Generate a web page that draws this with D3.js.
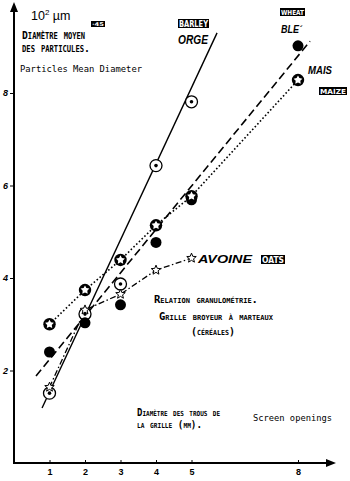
<!DOCTYPE html>
<html>
<head>
<meta charset="utf-8">
<script src="https://cdn.jsdelivr.net/npm/d3@7"></script>
<style>
  body { margin: 0; background: #fff; }
  svg { display: block; }
  .mono { font-family: "DejaVu Sans Mono", monospace; }
  .sc { font-family: "DejaVu Sans Mono", monospace; font-weight: bold; font-variant: small-caps; }
  .crop { font-family: "Liberation Sans", Arial, sans-serif; font-weight: bold; font-style: italic; }
</style>
</head>
<body>
<svg width="350" height="481"></svg>
<script>
// screen opening (mm) and mean particle diameter (10^2 um)
const barleyX = [1, 2, 3, 4, 5];
const barleyY = [1.51, 3.22, 3.87, 6.43, 7.81];
const wheatX = [1, 2, 3, 4, 5, 8];
const wheatY = [2.40, 3.03, 3.42, 4.77, 5.69, 9.02];
const maizeX = [1, 2, 3, 4, 5, 8];
const maizeY = [3.0, 3.74, 4.39, 5.14, 5.77, 8.28];
const oatsX = [1, 2, 3, 4, 5];
const oatsY = [1.64, 3.31, 3.65, 4.17, 4.43];

// fitted lines drawn on the original (start and end in data units)
const barleyFitX = [0.79, 5.72];
const barleyFitY = [1.19, 9.30];
const wheatFitX = [0.62, 8.34];
const wheatFitY = [1.88, 9.12];

const xTicks = [1, 2, 3, 4, 5, 8];
const yTicks = [2, 4, 6, 8];

const svg = d3.select("svg");

const x = d3.scaleLinear().domain([0, 8]).range([14, 298]);
const y = d3.scaleLinear().domain([0, 8]).range([463, 93]);

const zip = (xs, ys) => xs.map((v, i) => [v, ys[i]]);
const line = d3.line().x(d => x(d[0])).y(d => y(d[1]));

// axes with arrows
svg.append("line").attr("x1", 14).attr("y1", 463).attr("x2", 14).attr("y2", 8)
  .attr("stroke", "#000").attr("stroke-width", 2);
svg.append("path").attr("d", "M14,2 L10,12 L18,12 Z").attr("fill", "#000");
svg.append("line").attr("x1", 13).attr("y1", 463).attr("x2", 328).attr("y2", 463)
  .attr("stroke", "#000").attr("stroke-width", 2);
svg.append("path").attr("d", "M336,463 L326,459 L326,467 Z").attr("fill", "#000");

const yAxis = svg.append("g")
  .attr("transform", "translate(14,0)")
  .call(d3.axisLeft(y).tickValues(yTicks).tickSize(4).tickPadding(2));
yAxis.select(".domain").remove();
yAxis.selectAll("text").attr("font-family", "Liberation Sans, Arial, sans-serif")
  .attr("font-weight", "bold").attr("font-style", "italic").attr("font-size", 9);

const xAxis = svg.append("g")
  .attr("transform", "translate(0,463)")
  .call(d3.axisBottom(x).tickValues(xTicks).tickSize(-3).tickPadding(6));
xAxis.select(".domain").remove();
xAxis.selectAll("text").attr("font-family", "Liberation Sans, Arial, sans-serif")
  .attr("font-weight", "bold").attr("font-size", 9);

// lines
const lines = svg.append("g").attr("fill", "none").attr("stroke", "#000");
lines.append("path").attr("d", line(zip(barleyFitX, barleyFitY)))
  .attr("stroke-width", 1.4);
lines.append("path").attr("d", line(zip(wheatFitX, wheatFitY)))
  .attr("stroke-width", 1.6).attr("stroke-dasharray", "8,4");
lines.append("path").attr("d", line(zip(maizeX, maizeY)))
  .attr("stroke-width", 1.6).attr("stroke-dasharray", "1.6,2.2");
lines.append("path").attr("d", line(zip(oatsX, oatsY)))
  .attr("stroke-width", 1.3).attr("stroke-dasharray", "6,2.5,1.5,2.5");

// markers
const star = (n, ro, ri) => {
  const pts = [];
  for (let i = 0; i < n * 2; i++) {
    const r = i % 2 ? ri : ro;
    const a = Math.PI * i / n - Math.PI / 2;
    pts.push([r * Math.cos(a), r * Math.sin(a)]);
  }
  return "M" + pts.join("L") + "Z";
};

const m = svg.append("g");
zip(barleyX, barleyY).forEach(d => {
  const g = m.append("g").attr("transform", `translate(${x(d[0])},${y(d[1])})`);
  g.append("circle").attr("r", 6).attr("fill", "#fff").attr("stroke", "#000").attr("stroke-width", 1.3);
  g.append("circle").attr("r", 1.8).attr("fill", "#000");
});
zip(wheatX, wheatY).forEach(d => {
  m.append("circle").attr("cx", x(d[0])).attr("cy", y(d[1])).attr("r", 5.5).attr("fill", "#000");
});
zip(maizeX, maizeY).forEach(d => {
  const g = m.append("g").attr("transform", `translate(${x(d[0])},${y(d[1])})`);
  g.append("circle").attr("r", 6.2).attr("fill", "#000");
  g.append("path").attr("d", star(5, 4.6, 2.4)).attr("fill", "#fff");
});
zip(oatsX, oatsY).forEach(d => {
  m.append("path").attr("transform", `translate(${x(d[0])},${y(d[1])})`)
    .attr("d", star(5, 5, 2.2)).attr("fill", "#fff").attr("stroke", "#000").attr("stroke-width", 1);
});

// text helpers
const txt = (s, tx, ty, cls, size, len) => {
  const t = svg.append("text").attr("x", tx).attr("y", ty).attr("class", cls)
    .attr("font-size", size).text(s);
  if (len) t.attr("textLength", len).attr("lengthAdjust", "spacingAndGlyphs");
  return t;
};
const tag = (s, bx, by, w, h) => {
  svg.append("rect").attr("x", bx).attr("y", by).attr("width", w).attr("height", h).attr("fill", "#000");
  svg.append("text").attr("x", bx + 1).attr("y", by + h - 1.5)
    .attr("font-family", "DejaVu Sans, sans-serif").attr("font-weight", "bold")
    .attr("font-size", h - 1).attr("fill", "#fff")
    .attr("textLength", w - 2).attr("lengthAdjust", "spacingAndGlyphs").text(s);
};

// title block
const unit = svg.append("text").attr("x", 31).attr("y", 20)
  .attr("font-family", "Liberation Sans, Arial, sans-serif").attr("font-size", 12.5);
unit.append("tspan").text("10");
unit.append("tspan").attr("dy", -5).attr("font-size", 8).text("2");
unit.append("tspan").attr("dy", 5).text(" µm");
tag("·45", 91, 21, 14, 6);

txt("Diamètre moyen", 22, 39, "sc", 11, 63);
txt("des particules.", 22, 52, "sc", 11, 68);
txt("Particles Mean Diameter", 20, 72, "mono", 9, 122);

// crop labels
tag("BARLEY", 178, 19, 31, 9);
txt("ORGE", 178, 44, "crop", 12, 30);
tag("WHEAT", 280, 8, 25, 8);
txt("BLE´", 281, 33, "crop", 11.5, 21);
txt("MAIS", 308, 74, "crop", 11.5, 24);
tag("MAIZE", 319, 87, 28, 8);
txt("AVOINE", 198, 263, "crop", 11.5, 54);
tag("OATS", 261, 255, 24, 9);

// notes
txt("Relation granulométrie.", 154, 303, "sc", 10.5, 104);
txt("Grille broyeur à marteaux", 159, 320, "sc", 10.5, 114);
txt("(céréales)", 191, 335, "sc", 10.5, 44);
txt("Diamètre des trous de", 137, 416, "sc", 10.5, 83);
txt("la grille (mm).", 137, 428, "sc", 10.5, 65);
txt("Screen openings", 253, 421, "mono", 9, 79);
</script>
</body>
</html>
